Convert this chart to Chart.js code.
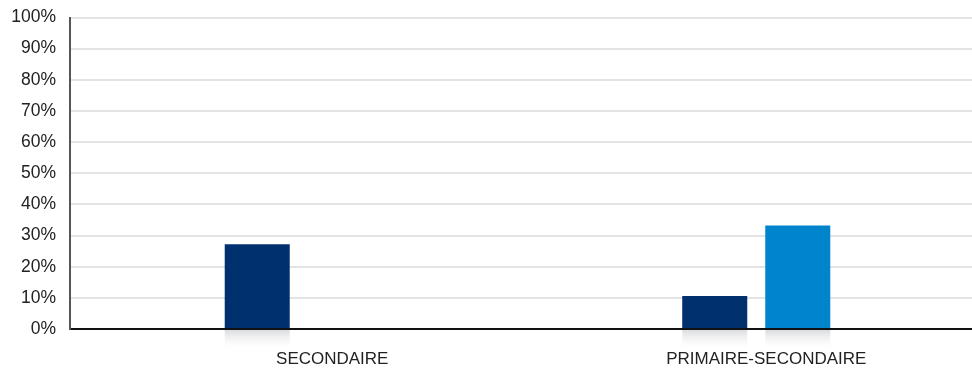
<!DOCTYPE html>
<html>
<head>
<meta charset="utf-8">
<script src="https://cdn.jsdelivr.net/npm/chart.js@4/dist/chart.umd.min.js"></script>
<style>
html,body{margin:0;padding:0;background:#fff;overflow:hidden;width:972px;height:372px;}
#wrap{position:relative;top:-7px;width:985px;height:379px;}
</style>
</head>
<body>
<div id="wrap"><canvas id="c"></canvas></div>
<script>
const categories = ["SECONDAIRE", "PRIMAIRE-SECONDAIRE"];
const seriesNavy = [27.2, 10.6];
const seriesBlue = [null, 33.2];
const yTicks = [0,10,20,30,40,50,60,70,80,90,100];

const labelPlugin = {
  id: 'xlabels',
  afterDraw(chart, args, opts) {
    const xs = chart.scales.x, ys = chart.scales.y, ctx = chart.ctx;
    ctx.save();
    ctx.font = '17px "Liberation Sans", Arial, sans-serif';
    ctx.fillStyle = '#222';
    ctx.textAlign = 'center';
    ctx.textBaseline = 'middle';
    categories.forEach((c, i) => {
      ctx.fillText(c, xs.getPixelForValue(i) + opts.offsets[i], ys.bottom + 30);
    });
    ctx.restore();
  }
};

const shadowPlugin = {
  id: 'shadow',
  afterDatasetsDraw(chart) {
    const ctx = chart.ctx, y0 = chart.scales.y.getPixelForValue(0);
    ctx.save();
    chart.data.datasets.forEach((ds, di) => {
      const meta = chart.getDatasetMeta(di);
      meta.data.forEach((el, i) => {
        if (ds.data[i] == null) return;
        const g = ctx.createLinearGradient(0, y0 + 1, 0, y0 + 22);
        g.addColorStop(0, 'rgba(215,217,220,0.9)');
        g.addColorStop(1, 'rgba(255,255,255,0)');
        ctx.fillStyle = g;
        ctx.fillRect(el.x - el.width / 2, y0 + 1, el.width, 21);
      });
    });
    ctx.restore();
  }
};

new Chart(document.getElementById('c'), {
  type: 'bar',
  data: {
    labels: categories,
    datasets: [
      { label: 'Série 1', data: seriesNavy, backgroundColor: '#01306F' },
      { label: 'Série 2', data: seriesBlue, backgroundColor: '#0084CB' }
    ]
  },
  options: {
    responsive: true,
    maintainAspectRatio: false,
    animation: false,
    categoryPercentage: 0.363,
    barPercentage: 0.783,
    layout: { padding: { top: 1, right: 0, left: 0, bottom: 0 } },
    plugins: { legend: { display: false }, tooltip: { enabled: false }, xlabels: { offsets: [33.5, 10] } },
    scales: {
      x: {
        grid: { display: false },
        border: { display: false },
        ticks: { display: false },
        afterFit(s) { s.height = 43; }
      },
      y: {
        min: 0, max: 100,
        afterBuildTicks(s) { s.ticks = yTicks.map(v => ({ value: v })); },
        afterFit(s) { s.width = 70; },
        border: { display: true, color: '#555', width: 2 },
        grid: {
          drawTicks: false,
          color: ctx => ctx.tick && ctx.tick.value === 0 ? '#111' : '#e4e4e4',
          lineWidth: 2
        },
        ticks: {
          padding: 14,
          color: '#222',
          font: { family: '"Liberation Sans", Arial, sans-serif', size: 17.5 },
          callback: v => v + '%'
        }
      }
    }
  },
  plugins: [labelPlugin, shadowPlugin]
});
</script>
</body>
</html>
